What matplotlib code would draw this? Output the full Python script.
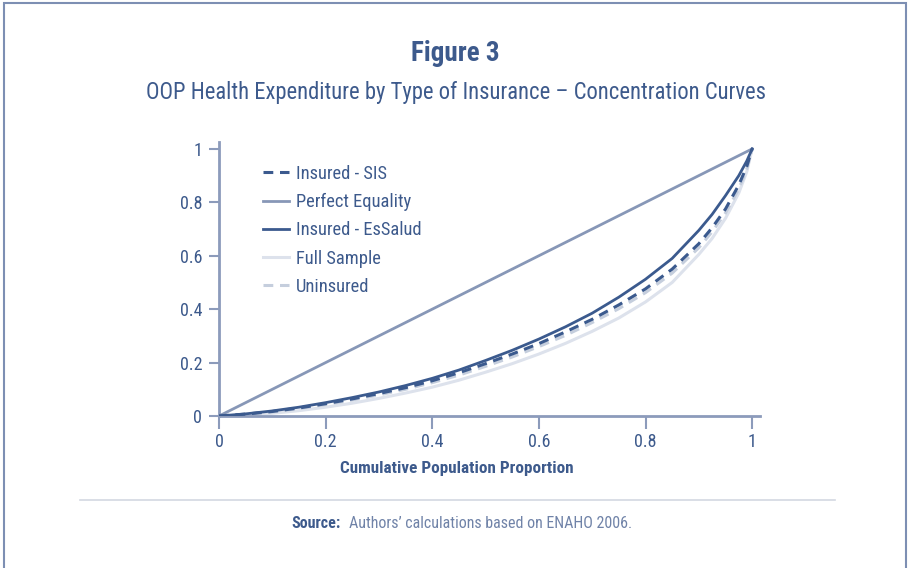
import matplotlib
matplotlib.use("Agg")
import matplotlib.pyplot as plt
from matplotlib.patches import Rectangle
from matplotlib.lines import Line2D

plt.rcParams['font.family'] = ['Roboto Condensed', 'Liberation Sans Narrow', 'DejaVu Sans']
plt.rcParams['font.stretch'] = 'condensed'

# cumulative population share
pop = [0, .05, .1, .15, .2, .25, .3, .35, .4, .45, .5, .55, .6, .65, .7,
       .75, .8, .85, .9, .925, .95, .975, .99, 1]
# cumulative OOP expenditure share per group
essalud = [0, .008, .019, .033, .05, .069, .09, .114, .141, .172, .208, .246,
           .288, .334, .385, .445, .512, .59, .695, .755, .825, .9, .955, 1]
sis = [0, .007, .017, .03, .046, .064, .084, .106, .132, .162, .196, .232,
       .271, .315, .362, .416, .476, .55, .645, .705, .775, .865, .935, 1]
uninsured = [0, .006, .015, .028, .043, .06, .079, .1, .125, .153, .186, .221,
             .26, .302, .35, .402, .462, .535, .63, .69, .76, .85, .925, 1]
full = [0, .004, .01, .02, .033, .048, .066, .086, .108, .134, .164, .196,
        .232, .272, .317, .367, .427, .5, .605, .665, .74, .835, .915, 1]
equality = [0, 1]

ticks = [0, 0.2, 0.4, 0.6, 0.8, 1]
tick_labels = ["0", "0.2", "0.4", "0.6", "0.8", "1"]

TXT = "#3d5a8c"
DARK = "#3b5a8e"
EQ = "#8797b7"
AXC = "#8c9bbb"

fig = plt.figure(figsize=(9.11, 5.68), dpi=100)

# outer frame
fig.patches.append(Rectangle((0.004, -0.01), 0.991, 1.004, transform=fig.transFigure,
                             fill=False, edgecolor="#7d8fb3", linewidth=1.5))

fig.text(0.5, 0.906, "Figure 3", ha="center", va="center", fontsize=19.5,
         fontweight="bold", color=TXT)
fig.text(0.5, 0.837, "OOP Health Expenditure by Type of Insurance \u2013 Concentration Curves",
         ha="center", va="center", fontsize=16.3, color=TXT)

ax = fig.add_axes([0.2404, 0.2676, 0.594, 0.482])
ax.plot(pop, sis, color=DARK, lw=2.2, ls=(0, (3.2, 2.2)), label="Insured - SIS", zorder=4)
ax.plot(equality, equality, color=EQ, lw=2, label="Perfect Equality", zorder=3)
ax.plot(pop, essalud, color=DARK, lw=2, label="Insured - EsSalud", zorder=5)
ax.plot(pop, full, color="#dde2ec", lw=2.2, label="Full Sample", zorder=1)
ax.plot(pop, uninsured, color="#c5cedd", lw=2.2, ls=(0, (3.2, 2.2)), label="Uninsured", zorder=2)

ax.set_xlim(0, 1.015)
ax.set_ylim(0, 1.025)
ax.set_xticks(ticks)
ax.set_xticklabels(tick_labels)
ax.set_yticks(ticks)
ax.set_yticklabels(tick_labels)
for s in ["top", "right"]:
    ax.spines[s].set_visible(False)
for s in ["left", "bottom"]:
    ax.spines[s].set_color(AXC)
    ax.spines[s].set_linewidth(2)
ax.tick_params(axis="both", colors=AXC, labelcolor=TXT, labelsize=13, width=1.5)
ax.tick_params(axis="x", length=9, pad=3)
ax.tick_params(axis="y", length=7, pad=5)
ax.set_xlabel("Cumulative Population Proportion", fontsize=12.3, color=TXT,
              fontweight="bold", labelpad=4)
ax.xaxis.set_label_coords(0.44, -0.163)

leg = ax.legend(loc="upper left", bbox_to_anchor=(0.067, 0.944), frameon=False,
                fontsize=13.3, handlelength=1.4, handletextpad=0.4, labelspacing=0.55,
                borderaxespad=0)
for t in leg.get_texts():
    t.set_color(TXT)

# separator and source note
fig.add_artist(Line2D([0.088, 0.917], [0.12, 0.12], transform=fig.transFigure,
                      color="#d3d8e1", lw=1.2))
src = fig.text(0.32, 0.079, "Source:", ha="left", va="center", fontsize=11.5,
               fontweight="bold", color=TXT)
r = fig.canvas.get_renderer()
bb = src.get_window_extent(r)
fig.text((bb.x1 + 8) / fig.bbox.width, 0.079, "Authors\u2019 calculations based on ENAHO 2006.",
         ha="left", va="center", fontsize=11.5, color="#7083a8")

fig.savefig("out.png", dpi=100, facecolor="white")
